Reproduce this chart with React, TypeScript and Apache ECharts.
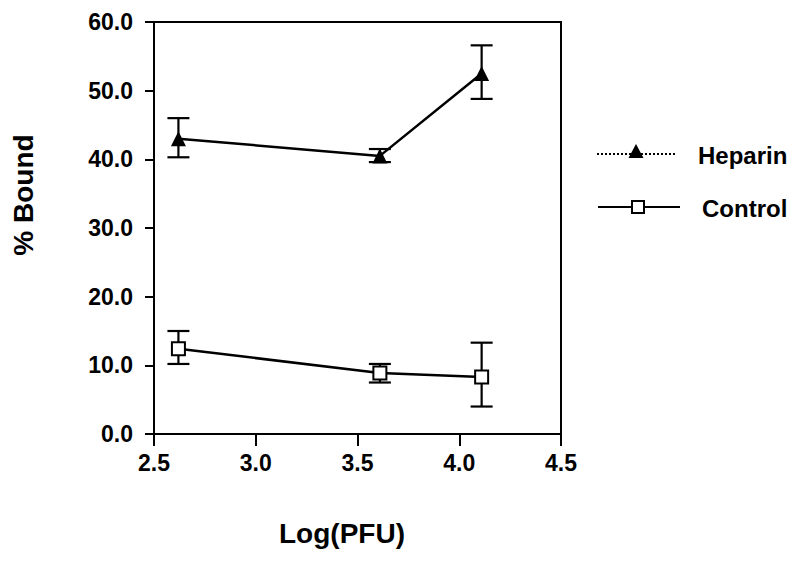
import React, { useEffect, useRef } from "react";
import * as echarts from "echarts";

const xValues = [2.62, 3.61, 4.11];
const heparinMean = [43.0, 40.5, 52.5];
const heparinLow = [40.3, 39.6, 48.8];
const heparinHigh = [46.0, 41.5, 56.6];
const controlMean = [12.4, 8.9, 8.3];
const controlLow = [10.2, 7.5, 4.0];
const controlHigh = [15.0, 10.2, 13.3];

const xTitle = "Log(PFU)";
const yTitle = "% Bound";
const seriesNames = ["Heparin", "Control"];

const FONT = "'Liberation Sans', Arial, Helvetica, sans-serif";

function errorRender(params: any, api: any) {
  const x = api.value(0);
  const lo = api.coord([x, api.value(1)]);
  const hi = api.coord([x, api.value(2)]);
  const half = 11;
  const style = { stroke: "#000", lineWidth: 2.2 };
  return {
    type: "group",
    children: [
      { type: "line", shape: { x1: lo[0], y1: lo[1], x2: hi[0], y2: hi[1] }, style },
      { type: "line", shape: { x1: lo[0] - half, y1: lo[1], x2: lo[0] + half, y2: lo[1] }, style },
      { type: "line", shape: { x1: hi[0] - half, y1: hi[1], x2: hi[0] + half, y2: hi[1] }, style },
    ],
  };
}

export default function App() {
  const ref = useRef<HTMLDivElement>(null);
  useEffect(() => {
    if (!ref.current) return;
    const chart = echarts.init(ref.current, null, { renderer: "svg" });
    const axisCommon = {
      axisLine: { show: true, lineStyle: { color: "#000", width: 2 } },
      axisTick: { show: true, inside: false, lineStyle: { color: "#000", width: 2 } },
      splitLine: { show: false },
    };
    const titleStyle = { fontFamily: FONT, fontWeight: "bold", fontSize: 28, fill: "#000" };
    chart.setOption({
      animation: false,
      backgroundColor: "#fff",
      grid: {
        left: 154,
        right: 239,
        top: 22,
        bottom: 129,
        show: true,
        borderColor: "#000",
        borderWidth: 2,
        containLabel: false,
      },
      xAxis: {
        type: "value",
        min: 2.5,
        max: 4.5,
        interval: 0.5,
        ...axisCommon,
        axisTick: { ...axisCommon.axisTick, length: 12 },
        axisLabel: {
          margin: 17,
          fontFamily: FONT,
          fontWeight: "bold",
          fontSize: 23,
          color: "#000",
          formatter: (v: number) => v.toFixed(1),
        },
      },
      yAxis: {
        type: "value",
        min: 0,
        max: 60,
        interval: 10,
        ...axisCommon,
        axisTick: { ...axisCommon.axisTick, length: 9 },
        axisLabel: {
          margin: 21,
          fontFamily: FONT,
          fontWeight: "bold",
          fontSize: 23,
          color: "#000",
          formatter: (v: number) => v.toFixed(1),
        },
      },
      series: [
        {
          type: "custom",
          name: seriesNames[0] + " error",
          renderItem: errorRender,
          data: xValues.map((x, i) => [x, heparinLow[i], heparinHigh[i]]),
          z: 1,
          silent: true,
        },
        {
          type: "custom",
          name: seriesNames[1] + " error",
          renderItem: errorRender,
          data: xValues.map((x, i) => [x, controlLow[i], controlHigh[i]]),
          z: 1,
          silent: true,
        },
        {
          type: "line",
          name: seriesNames[0],
          data: xValues.map((x, i) => [x, heparinMean[i]]),
          symbol: "triangle",
          symbolSize: 15,
          lineStyle: { color: "#000", width: 2.5 },
          itemStyle: { color: "#000", borderWidth: 0 },
          z: 3,
        },
        {
          type: "line",
          name: seriesNames[1],
          data: xValues.map((x, i) => [x, controlMean[i]]),
          symbol: "rect",
          symbolSize: 13,
          showAllSymbol: true,
          lineStyle: { color: "#000", width: 2.5 },
          itemStyle: { color: "#fff", borderColor: "#000", borderWidth: 2 },
          z: 3,
        },
      ],
      graphic: [
        {
          type: "text",
          x: 342,
          y: 533,
          style: { ...titleStyle, text: xTitle, align: "center", verticalAlign: "middle" },
        },
        {
          type: "text",
          x: 23,
          y: 195,
          rotation: Math.PI / 2,
          style: { ...titleStyle, text: yTitle, align: "center", verticalAlign: "middle" },
        },
        {
          type: "line",
          shape: { x1: 597, y1: 154, x2: 677, y2: 154 },
          style: { stroke: "#000", lineWidth: 2, lineDash: [2, 2] },
        },
        {
          type: "polygon",
          shape: { points: [[636, 144], [643.5, 158], [628.5, 158]] },
          style: { fill: "#000" },
        },
        {
          type: "text",
          x: 698,
          y: 155,
          style: {
            text: seriesNames[0],
            fontFamily: FONT,
            fontWeight: "bold",
            fontSize: 24,
            fill: "#000",
            verticalAlign: "middle",
          },
        },
        {
          type: "line",
          shape: { x1: 598, y1: 207, x2: 680, y2: 207 },
          style: { stroke: "#000", lineWidth: 2 },
        },
        {
          type: "rect",
          shape: { x: 632, y: 201, width: 12, height: 12 },
          style: { fill: "#fff", stroke: "#000", lineWidth: 2 },
        },
        {
          type: "text",
          x: 702,
          y: 208,
          style: {
            text: seriesNames[1],
            fontFamily: FONT,
            fontWeight: "bold",
            fontSize: 24,
            fill: "#000",
            verticalAlign: "middle",
          },
        },
      ],
    });
    return () => chart.dispose();
  }, []);
  return <div ref={ref} style={{ width: 800, height: 563, position: "absolute", left: 0, top: 0 }} />;
}
